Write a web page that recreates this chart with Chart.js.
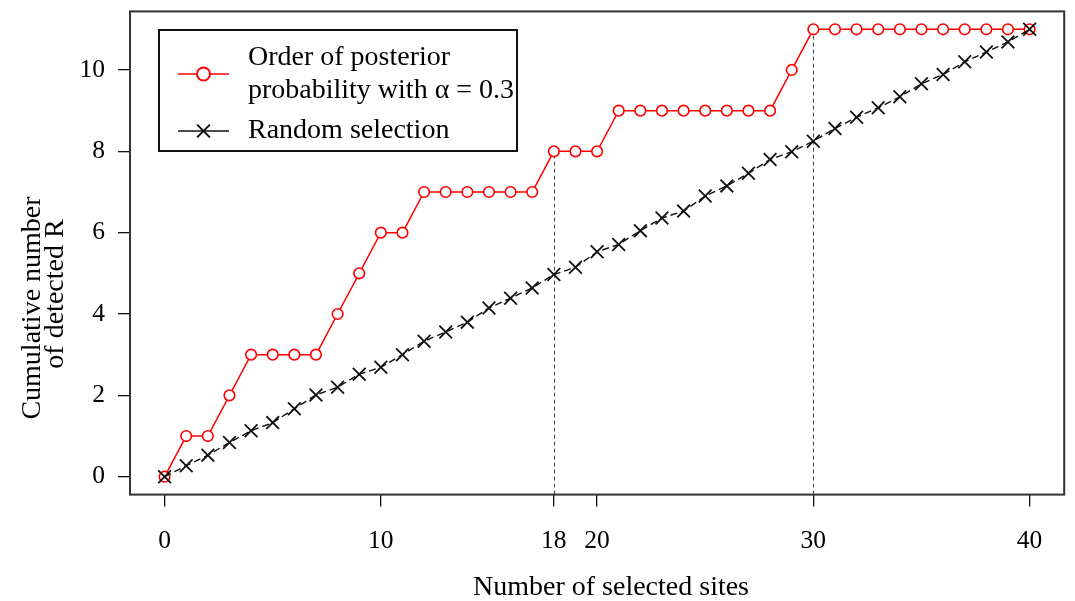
<!DOCTYPE html>
<html>
<head>
<meta charset="utf-8">
<title>Cumulative number of detected R</title>
<script src="https://cdn.jsdelivr.net/npm/chart.js@4.4.0/dist/chart.umd.min.js"></script>
<style>
  html, body { margin: 0; padding: 0; background: #fff; }
  #wrap { width: 1075px; height: 601px; }
</style>
</head>
<body>
<div id="wrap"><canvas id="c" width="1075" height="601"></canvas></div>
<script>
// Number of selected sites (0..40)
const sites = [0, 1, 2, 3, 4, 5, 6, 7, 8, 9, 10, 11, 12, 13, 14, 15, 16, 17, 18, 19, 20,
               21, 22, 23, 24, 25, 26, 27, 28, 29, 30, 31, 32, 33, 34, 35, 36, 37, 38, 39, 40];

// Cumulative detections when sites are taken in order of posterior probability
const posteriorOrder = [0, 1, 1, 2, 3, 3, 3, 3, 4, 5, 6, 6, 7, 7, 7, 7, 7, 7, 8, 8, 8,
                        9, 9, 9, 9, 9, 9, 9, 9, 10, 11, 11, 11, 11, 11, 11, 11, 11, 11, 11, 11];

// Cumulative detections under random selection
const randomSelection = [0, 0.27, 0.53, 0.84, 1.13, 1.33, 1.67, 2.01, 2.20, 2.52, 2.69,
                         3.00, 3.33, 3.56, 3.80, 4.15, 4.39, 4.64, 4.97, 5.15, 5.53,
                         5.71, 6.05, 6.36, 6.53, 6.90, 7.15, 7.46, 7.80, 7.99, 8.25,
                         8.56, 8.84, 9.07, 9.34, 9.66, 9.89, 10.20, 10.44, 10.69, 11.00];

const xTicks = [0, 10, 18, 20, 30, 40];
const yTicks = [0, 2, 4, 6, 8, 10];
const guideSites = [18, 30];

const posteriorLabel = ['Order of posterior', 'probability with \u03b1 = 0.3'];
const randomLabel = ['Random selection'];
const xTitle = 'Number of selected sites';
const yTitle = ['Cumulative number', 'of detected R'];

const SERIF = '"Liberation Serif", "Times New Roman", serif';

const toPoints = ys => sites.map((x, i) => ({ x: x, y: ys[i] }));

// Dashed guides from the axis up to the posterior curve at selected sites
const guidePlugin = {
  id: 'guides',
  beforeDatasetsDraw(chart) {
    const { ctx, chartArea, scales } = chart;
    ctx.save();
    ctx.strokeStyle = '#444';
    ctx.lineWidth = 1;
    ctx.setLineDash([4, 3]);
    guideSites.forEach(s => {
      const x = Math.round(scales.x.getPixelForValue(s)) + 0.5;
      const y = scales.y.getPixelForValue(posteriorOrder[sites.indexOf(s)]);
      ctx.beginPath();
      ctx.moveTo(x, chartArea.bottom);
      ctx.lineTo(x, y);
      ctx.stroke();
    });
    ctx.restore();
  }
};

// Frame round the plotting region
const framePlugin = {
  id: 'frame',
  afterDatasetsDraw(chart) {
    const { ctx, chartArea } = chart;
    ctx.save();
    ctx.strokeStyle = '#333';
    ctx.lineWidth = 2;
    ctx.strokeRect(chartArea.left, chartArea.top,
                   chartArea.right - chartArea.left, chartArea.bottom - chartArea.top);
    ctx.restore();
  }
};

// Axis titles
const titlePlugin = {
  id: 'axisTitles',
  afterDraw(chart) {
    const { ctx } = chart;
    ctx.save();
    ctx.fillStyle = '#000';
    ctx.font = '28px ' + SERIF;
    ctx.textAlign = 'center';
    ctx.textBaseline = 'alphabetic';
    ctx.fillText(xTitle, 611, 595);

    const yLines = [{ x: 40, y: 308 }, { x: 63, y: 294 }];
    yTitle.forEach((t, i) => {
      ctx.save();
      ctx.translate(yLines[i].x, yLines[i].y);
      ctx.rotate(-Math.PI / 2);
      ctx.fillText(t, 0, 0);
      ctx.restore();
    });
    ctx.restore();
  }
};

// Boxed legend in the upper left of the plot
const legendPlugin = {
  id: 'boxLegend',
  afterDraw(chart) {
    const { ctx } = chart;
    const box = { left: 159, top: 30, right: 517, bottom: 151 };
    ctx.save();
    ctx.fillStyle = '#fff';
    ctx.fillRect(box.left, box.top, box.right - box.left, box.bottom - box.top);
    ctx.strokeStyle = '#111';
    ctx.lineWidth = 2;
    ctx.strokeRect(box.left, box.top, box.right - box.left, box.bottom - box.top);

    const items = [
      { ds: chart.data.datasets[0], symY: 74, lines: [65, 98] },
      { ds: chart.data.datasets[1], symY: 131, lines: [138] }
    ];
    items.forEach(it => {
      const ds = it.ds;
      ctx.save();
      ctx.strokeStyle = ds.borderColor;
      ctx.lineWidth = 1.5;
      ctx.setLineDash([]);
      ctx.beginPath();
      ctx.moveTo(178, it.symY);
      ctx.lineTo(229, it.symY);
      ctx.stroke();
      ctx.fillStyle = '#fff';
      ctx.strokeStyle = ds.pointBorderColor;
      ctx.lineWidth = 2;
      Chart.helpers.drawPoint(ctx, {
        pointStyle: ds.pointStyle,
        radius: ds.pointStyle === 'circle' ? 6.5 : 9,
        rotation: 0,
        borderWidth: 2
      }, 203.5, it.symY);
      ctx.restore();

      ctx.fillStyle = '#000';
      ctx.font = '28px ' + SERIF;
      ctx.textAlign = 'left';
      ctx.textBaseline = 'alphabetic';
      ds.label.forEach((t, i) => ctx.fillText(t, 248, it.lines[i]));
    });
    ctx.restore();
  }
};

new Chart(document.getElementById('c'), {
  type: 'line',
  data: {
    datasets: [
      {
        label: posteriorLabel,
        data: toPoints(posteriorOrder),
        borderColor: '#ff0000',
        borderWidth: 1.5,
        pointStyle: 'circle',
        pointRadius: 5.3,
        pointBorderWidth: 1.6,
        pointBorderColor: '#ff0000',
        pointBackgroundColor: '#ffffff',
        tension: 0,
        order: 2
      },
      {
        label: randomLabel,
        data: toPoints(randomSelection),
        borderColor: '#111111',
        borderWidth: 1.4,
        borderDash: [7, 4],
        pointStyle: 'crossRot',
        pointRadius: 9,
        pointBorderWidth: 1.8,
        pointBorderColor: '#111111',
        pointBackgroundColor: '#111111',
        tension: 0,
        order: 1
      }
    ]
  },
  options: {
    responsive: false,
    animation: false,
    devicePixelRatio: 1,
    layout: { padding: { top: 11.4, right: 4.4, left: 0, bottom: 0 } },
    plugins: {
      legend: { display: false },
      tooltip: { enabled: false },
      title: { display: false }
    },
    scales: {
      x: {
        type: 'linear',
        min: -1.6,
        max: 41.6,
        afterBuildTicks: s => { s.ticks = xTicks.map(v => ({ value: v })); },
        afterFit: s => { s.height = 106.4; s.paddingLeft = 0; s.paddingRight = 0; },
        border: { display: false },
        grid: { display: true, drawOnChartArea: false, drawTicks: true, tickLength: 12, color: '#111', lineWidth: 1.3 },
        ticks: {
          autoSkip: false, maxRotation: 0, minRotation: 0,
          color: '#000', padding: 19,
          font: { family: SERIF, size: 25.5 },
          callback: v => String(v)
        }
      },
      y: {
        type: 'linear',
        min: -0.44,
        max: 11.44,
        afterBuildTicks: s => { s.ticks = yTicks.map(v => ({ value: v })); },
        afterFit: s => { s.width = 130; s.paddingTop = 0; s.paddingBottom = 0; },
        border: { display: false },
        grid: { display: true, drawOnChartArea: false, drawTicks: true, tickLength: 12, color: '#111', lineWidth: 1.3 },
        ticks: {
          autoSkip: false,
          color: '#000', padding: 13,
          font: { family: SERIF, size: 25.5 },
          callback: v => String(v)
        }
      }
    }
  },
  plugins: [guidePlugin, framePlugin, titlePlugin, legendPlugin]
});
</script>
</body>
</html>
